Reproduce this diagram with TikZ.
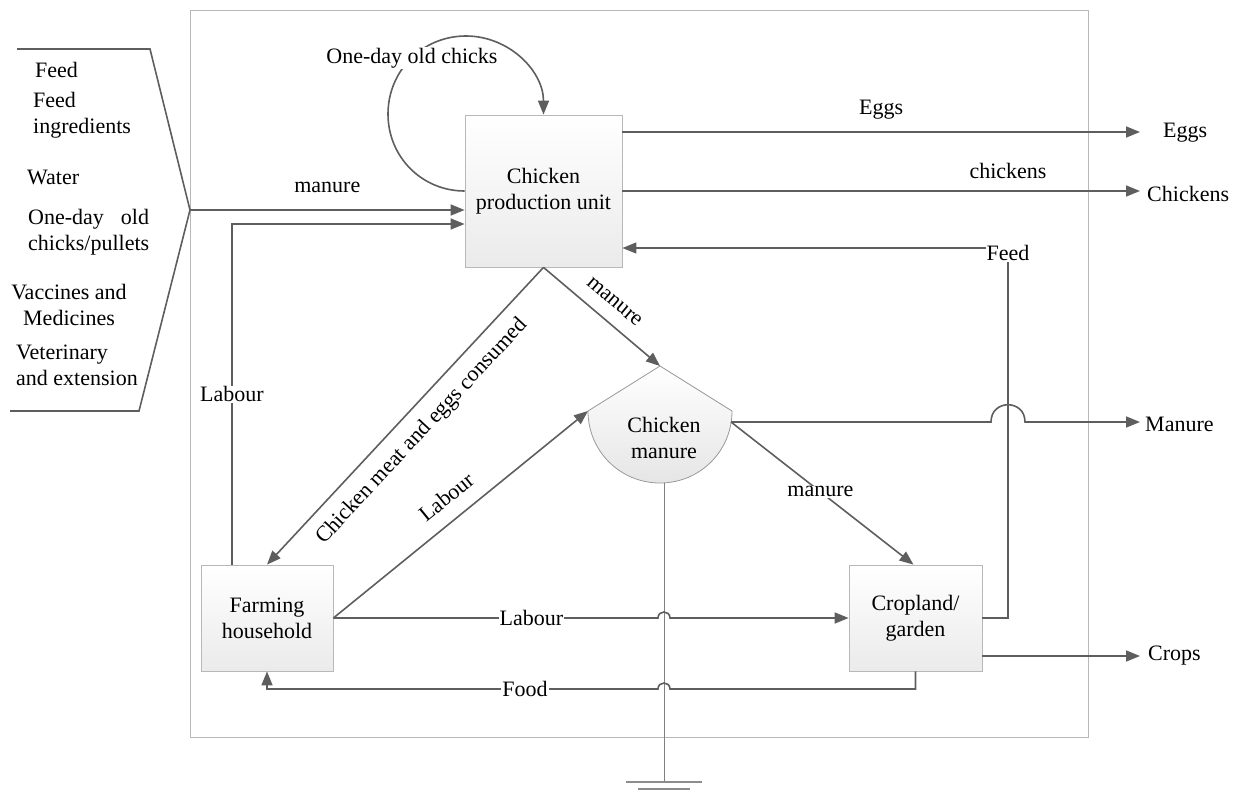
\documentclass[tikz,border=0pt]{standalone}
\usepackage{fontspec}
\setmainfont{Liberation Serif}
\usetikzlibrary{arrows.meta}
\definecolor{flowgray}{HTML}{5E5E5E}
\definecolor{rimgray}{HTML}{B8B8B8}
\tikzset{
  flow/.style={draw=flowgray, line width=1.6pt, -{Triangle[length=14pt,width=11pt]}},
  link/.style={draw=flowgray, line width=1.6pt},
  unit/.style={draw=rimgray, line width=0.8pt, top color=white, bottom color=black!8,
    minimum width=157pt, minimum height=152pt, align=center, inner sep=0pt},
  lbl/.style={fill=white, inner sep=1pt},
  txt/.style={align=left, inner sep=0pt},
  outlbl/.style={anchor=west, inner sep=0pt}
}

\begin{document}
\begin{tikzpicture}[x=1pt, y=-1pt, font=\fontsize{22}{26}\selectfont]
  \useasboundingbox (0,0) rectangle (1242,792);
  \draw[rimgray, line width=0.8pt] (190,10) rectangle (1088,737);

  % inputs
  \coordinate (apex) at (190,210);
  \draw[link] (17,49) -- (150,49) -- (apex) -- (139,411) -- (10,411);
  \node[txt, anchor=west] (in1) at (35,70) {Feed};
  \node[txt, anchor=west] (in2) at (33,115) {Feed\\ingredients};
  \node[txt, anchor=west] (in3) at (27,177) {Water};
  \node[txt, anchor=west] (in4) at (28,232) {One-day\hspace{17pt}old\\chicks/pullets};
  \node[txt, align=center] (in5) at (69,305) {Vaccines and\\Medicines};
  \node[txt, anchor=west] (in6) at (16,365) {Veterinary\\and extension};

  % units
  \node[unit] (cpu) at (543.5,191) {Chicken\\production unit};
  \node[unit, minimum width=132pt, minimum height=106pt] (farm) at (267,618) {Farming\\household};
  \node[unit, minimum width=133pt, minimum height=106pt] (crop) at (915.5,618) {Cropland/\\garden};

  % chicken manure
  \coordinate (cmT) at (660,366);
  \coordinate (cmL) at (588,411);
  \coordinate (cmR) at (732,411);
  \coordinate (cmE) at (731,422);
  \coordinate (cmB) at (660,483);
  \path[draw=black!40, line width=0.8pt, top color=white, bottom color=black!10]
    (cmL) -- (cmT) -- (cmR) .. controls (732,451) and (700,483) .. (cmB)
    .. controls (620,483) and (588,451) .. (cmL) -- cycle;
  \node[txt, align=center] (cm) at (664,438) {Chicken\\manure};

  % ground
  \coordinate (grd) at (664,782);
  \draw[black!50, line width=0.8pt] (cmB -| grd) -- (grd);
  \draw[black!45, line width=1.6pt] (626,782) -- (702,782) (638,789) -- (690,789);

  % self loop
  \draw[flow] (cpu.west) .. controls (422,191) and (388,157) .. (388,114)
    .. controls (388,71) and (422,36) .. (466,36)
    .. controls (509,36) and (543.5,71) .. (cpu.north);
  \node[lbl] (chicks) at (412,58) {One-day old chicks};

  % into the unit
  \draw[flow] (apex) -- node[above=13pt] {manure} (apex -| cpu.west);
  \draw[flow] ([xshift=-35pt]farm.north) |- node[lbl, pos=.25] {Labour} ([yshift=-33pt]cpu.west);

  % outputs
  \coordinate (rim) at (1140,0);
  \coordinate (eggsrc) at ([yshift=59pt]cpu.east);
  \draw[flow] (eggsrc) -- node[above=9pt] {Eggs} (eggsrc -| rim);
  \draw[flow] (cpu.east) -- node[above=8pt, pos=.745] {chickens} (cpu.east -| rim);
  \node[outlbl] (eggs) at (1163,133) {Eggs};
  \node[outlbl] (chickens) at (1147,194) {Chickens};
  \node[outlbl] (manureout) at (1145,424) {Manure};
  \node[outlbl] (crops) at (1148,656) {Crops};

  % feed back
  \coordinate (feedturn) at (1008,248);
  \draw[flow] (crop.east) -| (feedturn) node[lbl, yshift=-5pt] (feedlbl) {Feed} -- (feedturn -| cpu.east);

  % diagonals
  \draw[flow] (cpu.south) -- node[above=10pt, sloped] {manure} (cmT);
  \draw[flow] (cpu.south) -- node[below=9pt, sloped] {Chicken meat and eggs consumed} (farm.north);
  \draw[flow] (farm.east) -- node[above=11pt, sloped] {Labour} (cmL);
  \draw[flow] (cmE) -- node[lbl, pos=.49] {manure} ([xshift=-2pt]crop.north);

  % manure out, with a jump over the feed line
  \draw[flow] (cmE) -- (991,422) .. controls (991,399) and (1025,399) .. (1025,422) -- (cmE -| rim);

  % labour and food rows
  \coordinate (foodrow) at (0,689);
  \draw[flow] (farm.east) -- node[lbl, pos=.61] {Labour} (658,618)
    .. controls (658,610) and (670,610) .. (670,618) -- (crop.west);
  \draw[flow] (crop.south) -- (crop.south |- foodrow) -- (670,689)
    .. controls (670,681) and (658,681) .. (658,689)
    -- node[lbl, pos=.34] {Food} (farm.south |- foodrow) -- (farm.south);
  \draw[flow] (crop.east |- crops) -- (crop.east |- crops -| rim);
\end{tikzpicture}
\end{document}
